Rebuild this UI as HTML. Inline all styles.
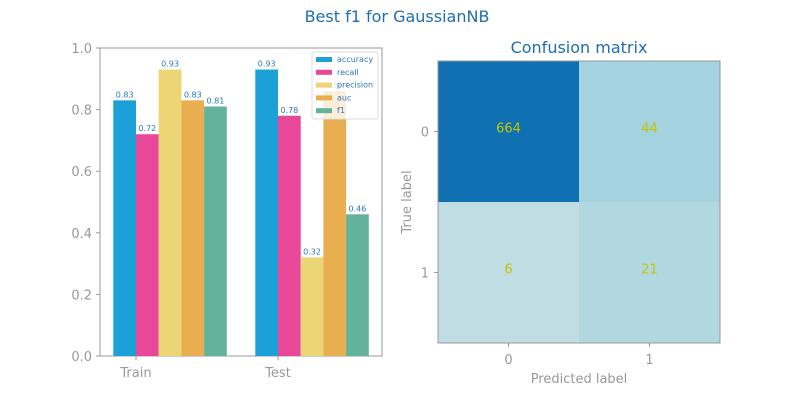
<!DOCTYPE html>
<html><head><meta charset="utf-8"><style>
body{margin:0;background:#fff;}
svg{display:block;font-family:"DejaVu Sans","Liberation Sans",sans-serif;}
</style></head><body>
<svg id="c" width="800" height="400">
<text x="397" y="22" text-anchor="middle" font-size="16" fill="#1f6fb0">Best f1 for GaussianNB</text>
</svg>
<script>
const groups=["Train","Test"];
const metrics=["accuracy","recall","precision","auc","f1"];
const trainVals=[0.83,0.72,0.93,0.83,0.81];
const testVals=[0.93,0.78,0.32,0.86,0.46];
const yTicks=[0.0,0.2,0.4,0.6,0.8,1.0];
const cmLabels=["0","1"];
const cmValues=[[664,44],[6,21]];
const colors=["#1ba1d8","#e8479a","#ebd574","#e8ae4f","#63b29c"];
const cellColors=[["#0e6fb1","#a4d2df"],["#bfdde2","#b1d7e0"]];
const NS="http://www.w3.org/2000/svg";
const svg=document.getElementById('c');
function el(t,a,txt){const e=document.createElementNS(NS,t);for(const k in a)e.setAttribute(k,a[k]);if(txt!==undefined)e.textContent=txt;svg.appendChild(e);return e;}
const L=100,R=382,T=48,B=356;
const y=v=>B-v*(B-T);
const bw=22.7;
const gx=i=>136+i*142;
let f=el('rect',{x:L,y:T,width:R-L,height:B-T,fill:'none',stroke:'#999','stroke-width':1});


yTicks.forEach(v=>{
 let t=el('line',{x1:L-4,x2:L,y1:y(v),y2:y(v),stroke:'#999'});
 
 
 let l=el('text',{x:L-8,y:y(v)+5,'text-anchor':'end','font-size':13,fill:'#999'},v.toFixed(1));
 
 
});
[trainVals,testVals].forEach((vals,g)=>{
 vals.forEach((v,i)=>{
  const x=gx(g)-bw+i*bw;
  let r=el('rect',{x:x,y:y(v),width:bw,height:B-y(v),fill:colors[i]});
  
  
  let t=el('text',{x:x+bw/2,y:y(v)-3,'text-anchor':'middle','font-size':8,fill:'#2a7ab8'},v.toFixed(2));
  
  
 });
 let tk=el('line',{x1:gx(g),x2:gx(g),y1:B,y2:B+4,stroke:'#999'});
 
 
 let tl=el('text',{x:gx(g),y:B+21,'text-anchor':'middle','font-size':13,fill:'#999'},groups[g]);
 
 
});
let lg=el('rect',{x:312,y:52,width:66,height:67,fill:'#fff','fill-opacity':0.8,stroke:'#ddd',rx:2});


metrics.forEach((m,i)=>{
 const yy=59+i*12.8;
 let s=el('rect',{x:316,y:yy-2,width:16,height:5,fill:colors[i]});
 
 
 let t=el('text',{x:337,y:yy+3,'font-size':8,fill:'#2a7ab8'},m);
 
 
});
const CL=438,CT=61,CS=141;
cmValues.forEach((row,r)=>row.forEach((v,c)=>{
 let rc=el('rect',{x:CL+c*CS,y:CT+r*CS,width:CS,height:CS,fill:cellColors[r][c]});
 
 
 let t=el('text',{x:CL+c*CS+CS/2,y:CT+r*CS+CS/2+1,'text-anchor':'middle','font-size':13,fill:'#c8c400'},v);
 
 
}));
let cf=el('rect',{x:CL,y:CT,width:2*CS,height:2*CS,fill:'none',stroke:'#999'});


cmLabels.forEach((lab,i)=>{
 const cx=CL+i*CS+CS/2, cy=CT+i*CS+CS/2;
 let a=el('line',{x1:cx,x2:cx,y1:CT+2*CS,y2:CT+2*CS+4,stroke:'#999'});
 
 
 let b=el('text',{x:cx,y:CT+2*CS+21,'text-anchor':'middle','font-size':13,fill:'#999'},lab);
 
 
 let c2=el('line',{x1:CL-4,x2:CL,y1:cy,y2:cy,stroke:'#999'});
 
 
 let d=el('text',{x:CL-9,y:cy+5,'text-anchor':'end','font-size':13,fill:'#999'},lab);
 
 
});
let ct=el('text',{x:CL+CS,y:53,'text-anchor':'middle','font-size':16,fill:'#1f6fb0'},'Confusion matrix');


let xl=el('text',{x:CL+CS,y:383,'text-anchor':'middle','font-size':13,fill:'#999'},'Predicted label');


let yl=el('text',{x:411,y:CT+CS,'text-anchor':'middle','font-size':13,fill:'#999',transform:'rotate(-90 411 '+(CT+CS)+')'},'True label');


</script>
</body></html>
